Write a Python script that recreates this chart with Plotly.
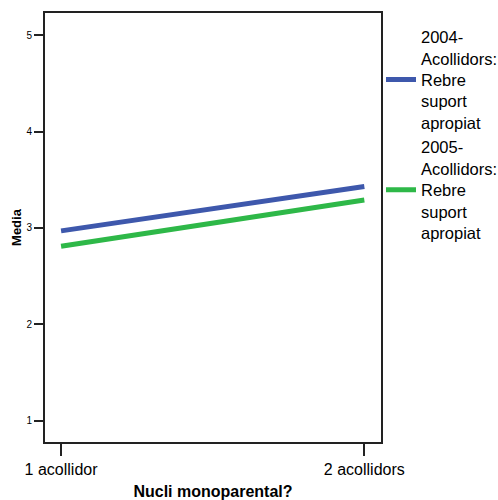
import plotly.graph_objects as go

categories = ["1 acollidor", "2 acollidors"]
series_names = ["2004-<br>Acollidors:<br>Rebre<br>suport<br>apropiat",
                "2005-<br>Acollidors:<br>Rebre<br>suport<br>apropiat"]
values_2004 = [2.97, 3.43]
values_2005 = [2.81, 3.29]
colors = ["#3E58AC", "#2EB848"]
y_ticks = [1, 2, 3, 4, 5]

font_family = "Liberation Sans, Arial, sans-serif"

fig = go.Figure()
for name, vals, col in zip(series_names, [values_2004, values_2005], colors):
    fig.add_trace(go.Scatter(x=list(range(len(categories))), y=vals, mode="lines",
                             name=name, line=dict(color=col, width=5)))

fig.update_layout(
    width=498, height=500,
    margin=dict(l=45, r=117, t=13, b=58, autoexpand=False),
    paper_bgcolor="white", plot_bgcolor="white",
    font=dict(family=font_family, color="black"),
    showlegend=True,
    legend=dict(x=1.0, xanchor="left", y=0.985, yanchor="top",
                font=dict(size=16.5, family=font_family),
                tracegroupgap=0, bgcolor="rgba(0,0,0,0)"),
    xaxis=dict(
        range=[-0.053, 1.055], automargin=False,
        tickmode="array", tickvals=list(range(len(categories))), ticktext=categories,
        tickfont=dict(size=16), ticks="outside", ticklen=12, tickwidth=1.5, tickcolor="#222",
        showline=True, linecolor="#222", linewidth=2, mirror=True,
        showgrid=False, zeroline=False,
        title=dict(text="<b>Nucli monoparental?</b>", font=dict(size=16), standoff=10),
    ),
    yaxis=dict(
        range=[0.78, 5.23], automargin=False,
        tickmode="array", tickvals=y_ticks,
        tickfont=dict(size=10), ticks="outside", ticklen=9, tickwidth=1.5, tickcolor="#222",
        showline=True, linecolor="#222", linewidth=2, mirror=True,
        showgrid=False, zeroline=False,
        title=dict(text="<b>Media</b>", font=dict(size=13), standoff=2),
    ),
)

fig.write_html("out.html", config={"displayModeBar": False},
               post_script="document.body.style.margin='0';document.body.style.padding='0';")
